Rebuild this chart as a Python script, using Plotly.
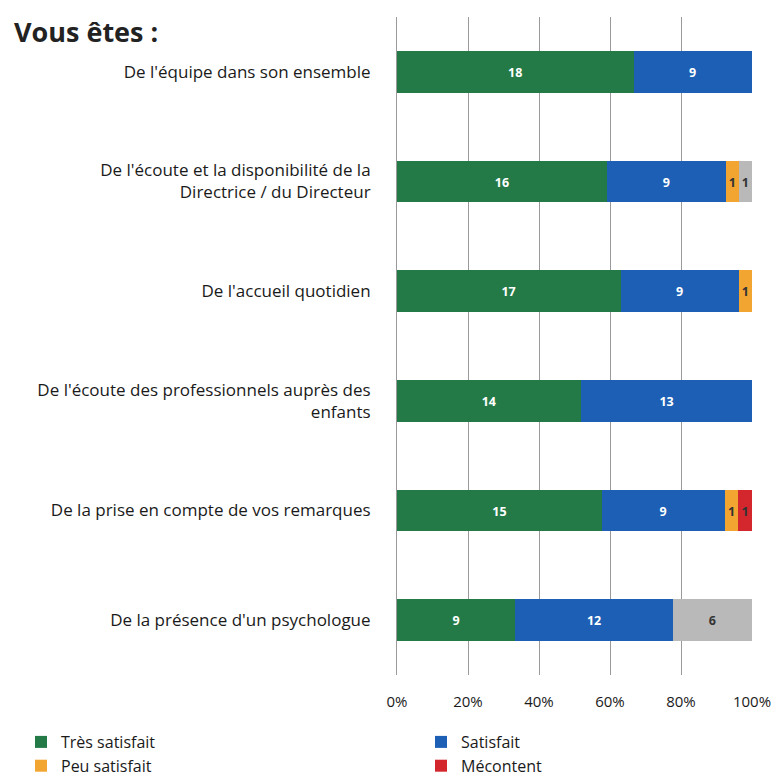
import plotly.graph_objects as go

categories = [
    "De l'équipe dans son ensemble",
    "De l'écoute et la disponibilité de la<br>Directrice / du Directeur",
    "De l'accueil quotidien",
    "De l'écoute des professionnels auprès des<br>enfants",
    "De la prise en compte de vos remarques",
    "De la présence d'un psychologue",
]
tres_satisfait = [18, 16, 17, 14, 15, 9]
satisfait = [9, 9, 9, 13, 9, 12]
peu_satisfait = [0, 1, 1, 0, 1, 0]
mecontent = [0, 0, 0, 0, 1, 0]
sans_avis = [0, 1, 0, 0, 0, 6]
x_ticks = [0, 20, 40, 60, 80, 100]
x_tick_labels = ["0%", "20%", "40%", "60%", "80%", "100%"]

# name, values, bar colour, text colour, legend id (None = hidden)
series = [
    ("Très satisfait", tres_satisfait, "#237a47", "white", "legend"),
    ("Satisfait", satisfait, "#1c5fb5", "white", "legend2"),
    ("Peu satisfait", peu_satisfait, "#f3a531", "#333333", "legend"),
    ("Mécontent", mecontent, "#d3262d", "#333333", "legend2"),
    ("Sans avis", sans_avis, "#b9b9b9", "#333333", None),
]

fig = go.Figure()
for name, vals, color, tcolor, leg in series:
    fig.add_trace(go.Bar(
        y=categories, x=vals, name=name, orientation="h",
        marker=dict(color=color, line=dict(width=0)),
        text=[str(v) if v else "" for v in vals],
        textposition="inside", insidetextanchor="middle",
        textfont=dict(color=tcolor, size=15, family="Open Sans", weight="bold"),
        showlegend=leg is not None,
        legend=leg if leg else "legend",
    ))

legend_common = dict(orientation="v", xref="container", yref="container",
                     xanchor="left", yanchor="top", tracegroupgap=0,
                     font=dict(size=16, color="#1a1a1a", family="Open Sans"),
                     itemwidth=30, traceorder="normal", bgcolor="rgba(0,0,0,0)")

fig.update_layout(
    barmode="stack", barnorm="percent", bargap=0.62,
    width=771, height=782,
    margin=dict(l=397, r=19, t=17, b=107, autoexpand=False),
    paper_bgcolor="white", plot_bgcolor="white",
    font=dict(family="Open Sans", color="#1a1a1a"),
    title=dict(text="<b>Vous êtes :</b>", xref="container", yref="container",
               x=14/771, y=1-33/782, xanchor="left", yanchor="middle",
               font=dict(size=27, color="#222222", family="Open Sans")),
    xaxis=dict(range=[0, 100], tickvals=x_ticks, ticktext=x_tick_labels,
               showgrid=True, gridcolor="#9a9a9a", gridwidth=1,
               zeroline=False, showline=False, ticks="", automargin=False,
               ticklabelstandoff=16, ticklabeloverflow="allow",
               tickfont=dict(size=15, color="#1a1a1a", family="Open Sans")),
    yaxis=dict(autorange="reversed", showgrid=False, zeroline=False,
               showline=True, linecolor="#9a9a9a", ticks="", automargin=False,
               ticklabelstandoff=22,
               tickfont=dict(size=17, color="#1a1a1a", family="Open Sans")),
    legend=dict(x=21/771, y=1-725/782, **legend_common),
    legend2=dict(x=421/771, y=1-725/782, **legend_common),
    uniformtext=dict(minsize=8, mode="show"),
)

fig.write_html("out.html", config={"displayModeBar": False},
               post_script="document.body.style.margin='0';")
